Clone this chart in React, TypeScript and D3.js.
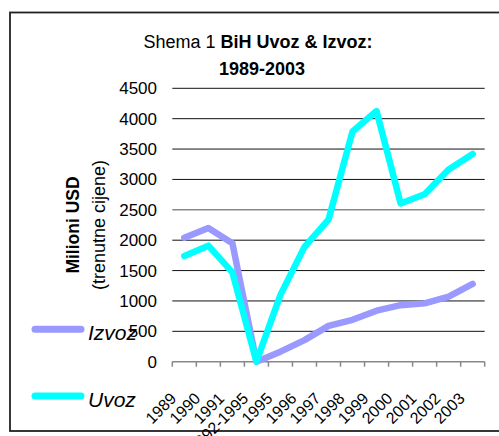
import React, { useRef, useEffect } from "react"
import * as d3 from "d3"

const categories = ["1989", "1990", "1991", "1992-1995", "1995", "1996", "1997", "1998", "1999", "2000", "2001", "2002", "2003"]
const izvoz = [2040, 2200, 1950, 0, 165, 355, 590, 690, 840, 930, 960, 1070, 1280]
const uvoz = [1740, 1910, 1470, 0, 1100, 1890, 2340, 3790, 4125, 2605, 2755, 3165, 3420]
const yTicks = [0, 500, 1000, 1500, 2000, 2500, 3000, 3500, 4000, 4500]

const W = 499
const H = 436
const FONT = "'Liberation Sans', Arial, sans-serif"

const App: React.FC = () => {
  const svgRef = useRef<SVGSVGElement | null>(null)

  useEffect(() => {
    if (!svgRef.current) return
    const svg = d3.select(svgRef.current)
    svg.selectAll("*").remove()

    const x0 = 172.3
    const x1 = 484.7
    const yTop = 88.3
    const yBot = 361.7

    const x = d3.scaleBand().domain(categories).range([x0, x1])
    const y = d3.scaleLinear().domain([0, 4500]).range([yBot, yTop])
    const cx = (c: string) => (x(c) || 0) + x.bandwidth() / 2

    // frame
    svg.append("rect")
      .attr("x", 10).attr("y", 12.5)
      .attr("width", W + 20).attr("height", 418.5)
      .attr("fill", "#fff")
      .attr("stroke", "#222")
      .attr("stroke-width", 1.8)

    // title
    const t = svg.append("text")
      .attr("x", 258).attr("y", 47.5)
      .attr("text-anchor", "middle")
      .style("font-family", FONT).style("font-size", "18px")
    t.append("tspan").text("Shema 1  ")
    t.append("tspan").style("font-weight", "bold").text("BiH Uvoz & Izvoz:")
    svg.append("text")
      .attr("x", 262).attr("y", 75)
      .attr("text-anchor", "middle")
      .style("font-family", FONT).style("font-size", "18px").style("font-weight", "bold")
      .text("1989-2003")

    // gridlines
    svg.append("g").selectAll("line")
      .data(yTicks.filter((d) => d > 0))
      .join("line")
      .attr("x1", x0).attr("x2", x1)
      .attr("y1", (d) => y(d)).attr("y2", (d) => y(d))
      .attr("stroke", (d) => (d === 2500 ? "#888" : "#111"))
      .attr("stroke-width", (d) => (d === 2500 ? 1.5 : 1))

    // y tick labels
    svg.append("g").selectAll("text")
      .data(yTicks)
      .join("text")
      .attr("x", 157).attr("y", (d) => y(d) + 6)
      .attr("text-anchor", "end")
      .style("font-family", FONT).style("font-size", "17px")
      .text((d) => d)

    // x axis
    svg.append("line")
      .attr("x1", x0).attr("x2", x1)
      .attr("y1", yBot).attr("y2", yBot)
      .attr("stroke", "#888").attr("stroke-width", 1.5)
    const bounds = categories.map((c) => x(c) || 0).concat([x1])
    svg.append("g").selectAll("line")
      .data(bounds)
      .join("line")
      .attr("x1", (d) => d).attr("x2", (d) => d)
      .attr("y1", yBot).attr("y2", yBot + 5)
      .attr("stroke", "#888").attr("stroke-width", 1.5)

    // x labels
    svg.append("g").selectAll("text")
      .data(categories)
      .join("text")
      .attr("transform", (d) => `translate(${cx(d) - 7},399.5) rotate(-45)`)
      .attr("text-anchor", "end")
      .style("font-family", FONT).style("font-size", "16px")
      .text((d) => d)

    // y axis title
    svg.append("text")
      .attr("transform", `translate(79,225) rotate(-90)`)
      .attr("text-anchor", "middle")
      .style("font-family", FONT).style("font-size", "17.5px").style("font-weight", "bold")
      .text("Milioni USD")
    svg.append("text")
      .attr("transform", `translate(105,225) rotate(-90)`)
      .attr("text-anchor", "middle")
      .style("font-family", FONT).style("font-size", "18px")
      .text("(trenutne cijene)")

    // lines
    const line = d3.line<number>()
      .x((_, i) => cx(categories[i]))
      .y((d) => y(d))
    const series = [
      { name: "Izvoz", values: izvoz, color: "#9999FF", ly: 329.3, ty: 340 },
      { name: "Uvoz", values: uvoz, color: "#00FFFF", ly: 396, ty: 407 },
    ]
    series.forEach((s) => {
      svg.append("path")
        .datum(s.values)
        .attr("fill", "none")
        .attr("stroke", s.color)
        .attr("stroke-width", 6.5)
        .attr("stroke-linejoin", "round")
        .attr("stroke-linecap", "round")
        .attr("d", line)
    })

    // legend
    series.forEach((s) => {
      svg.append("line")
        .attr("x1", 35).attr("x2", 81)
        .attr("y1", s.ly).attr("y2", s.ly)
        .attr("stroke", s.color).attr("stroke-width", 7)
        .attr("stroke-linecap", "round")
      svg.append("text")
        .attr("x", 88).attr("y", s.ty)
        .style("font-family", FONT).style("font-size", "21px").style("font-style", "italic")
        .text(s.name)
    })
  }, [])

  return (
    <svg ref={svgRef} width={W} height={H} style={{ position: "absolute", left: 0, top: 0, display: "block" }}></svg>
  )
}

export default App
